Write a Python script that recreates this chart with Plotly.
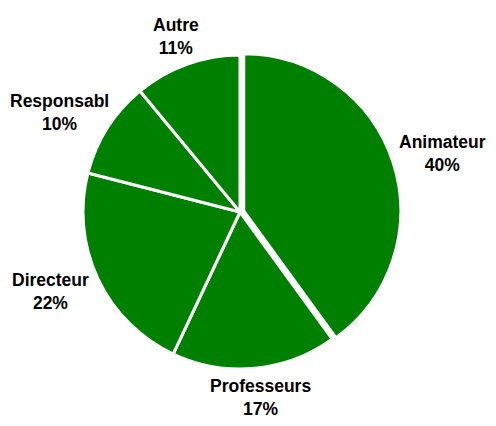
import math
import plotly.graph_objects as go

labels = ["Animateur", "Professeurs", "Directeur", "Responsabl", "Autre"]
values = [40, 17, 22, 10, 11]
pulls = [0.025, 0, 0, 0, 0]

W, H = 496, 426
OFF = 8                    # default page body margin shifts the figure
CX, CY = 240 - OFF, 212 - OFF   # pie centre in figure px (from top-left)
R = 157                    # visible pie radius in px
RD = R * (1 + max(pulls))  # domain radius
GAP = 9                    # label distance beyond the rim
FS = 17.5
GREEN = "#008000"

fig = go.Figure(go.Pie(
    labels=labels, values=values, sort=False, direction="clockwise", rotation=0,
    pull=pulls, textinfo="none", hoverinfo="label+percent",
    marker=dict(colors=[GREEN] * len(values), line=dict(color="white", width=3)),
    domain=dict(x=[(CX - RD) / W, (CX + RD) / W], y=[1 - (CY + RD) / H, 1 - (CY - RD) / H]),
    showlegend=False,
))

total = sum(values)
cum = 0
anns = []
for lab, v, p in zip(labels, values, pulls):
    mid = (cum + v / 2) / total * 2 * math.pi
    cum += v
    s, c = math.sin(mid), math.cos(mid)
    d = R + GAP + p * R
    w = len(lab) * 0.55 * FS
    h = 2.3 * FS
    px = CX + d * s + s * w / 2
    py = CY - d * c - c * h / 2
    pct = round(v / total * 100)
    anns.append(dict(x=px / W, y=1 - py / H, xref="paper", yref="paper",
                     text=f"{lab}<br>{pct}%", showarrow=False,
                     xanchor="center", yanchor="middle", align="center",
                     font=dict(family="Arial, Liberation Sans, sans-serif", size=FS,
                               color="black", weight="bold")))

fig.update_layout(width=W, height=H, margin=dict(l=0, r=0, t=0, b=0),
                  paper_bgcolor="white", plot_bgcolor="white", annotations=anns)
fig.write_html("out.html")
